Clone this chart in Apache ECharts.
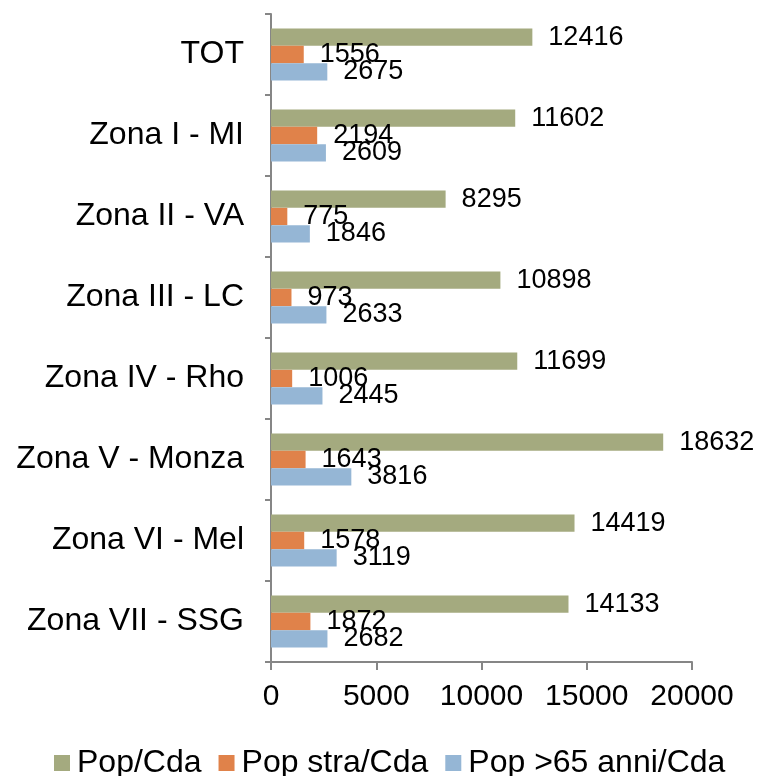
<!DOCTYPE html>
<html>
<head>
<meta charset="utf-8">
<script src="https://cdn.jsdelivr.net/npm/echarts@6/dist/echarts.min.js"></script>
<style>
  html, body { margin: 0; padding: 0; background: #fff; }
  #chart { width: 757px; height: 776px; }
</style>
</head>
<body>
<div id="chart"></div>
<script>
  var categories = ['TOT', 'Zona I - MI', 'Zona II - VA', 'Zona III - LC', 'Zona IV - Rho', 'Zona V - Monza', 'Zona VI - Mel', 'Zona VII - SSG']
  var popCda = [12416, 11602, 8295, 10898, 11699, 18632, 14419, 14133]
  var popStraCda = [1556, 2194, 775, 973, 1006, 1643, 1578, 1872]
  var pop65Cda = [2675, 2609, 1846, 2633, 2445, 3816, 3119, 2682]
  var seriesNames = ['Pop/Cda', 'Pop stra/Cda', 'Pop >65 anni/Cda']

  var font = 'Liberation Sans, Arial, sans-serif'
  var axisColor = '#868686'

  function makeSeries(name, data, color) {
    return {
      name: name,
      type: 'bar',
      data: data,
      barGap: '0%',
      barCategoryGap: '36%',
      itemStyle: { color: color },
      label: {
        show: true,
        position: 'right',
        distance: 16,
        color: '#000',
        fontSize: 27,
        fontFamily: font
      }
    }
  }

  var chart = echarts.init(document.getElementById('chart'))
  chart.setOption({
    animation: false,
    grid: { left: 271, right: 65, top: 14, bottom: 114 },
    legend: {
      top: 742,
      left: 49,
      itemWidth: 16,
      itemHeight: 16,
      itemGap: 17,
      icon: 'rect',
      textStyle: { fontSize: 32, fontFamily: font, color: '#000', padding: [0, 0, 0, 2] },
      data: seriesNames
    },
    xAxis: {
      type: 'value',
      min: 0,
      max: 20000,
      interval: 5000,
      splitLine: { show: false },
      axisLine: { show: true, lineStyle: { color: axisColor, width: 2 } },
      axisTick: { show: true, length: 8, lineStyle: { color: axisColor, width: 2 } },
      axisLabel: {
        fontSize: 30, fontFamily: font, color: '#000', margin: 20,
        formatter: function (v) { return String(v) }
      }
    },
    yAxis: {
      type: 'category',
      inverse: true,
      data: categories,
      axisLine: { show: true, lineStyle: { color: axisColor, width: 2 } },
      axisTick: { show: true, length: 6, lineStyle: { color: axisColor, width: 2 } },
      axisLabel: { fontSize: 32, fontFamily: font, color: '#000', margin: 27 }
    },
    series: [
      makeSeries(seriesNames[0], popCda, '#A4AA7F'),
      makeSeries(seriesNames[1], popStraCda, '#E0824A'),
      makeSeries(seriesNames[2], pop65Cda, '#95B6D5')
    ]
  })
</script>
</body>
</html>
